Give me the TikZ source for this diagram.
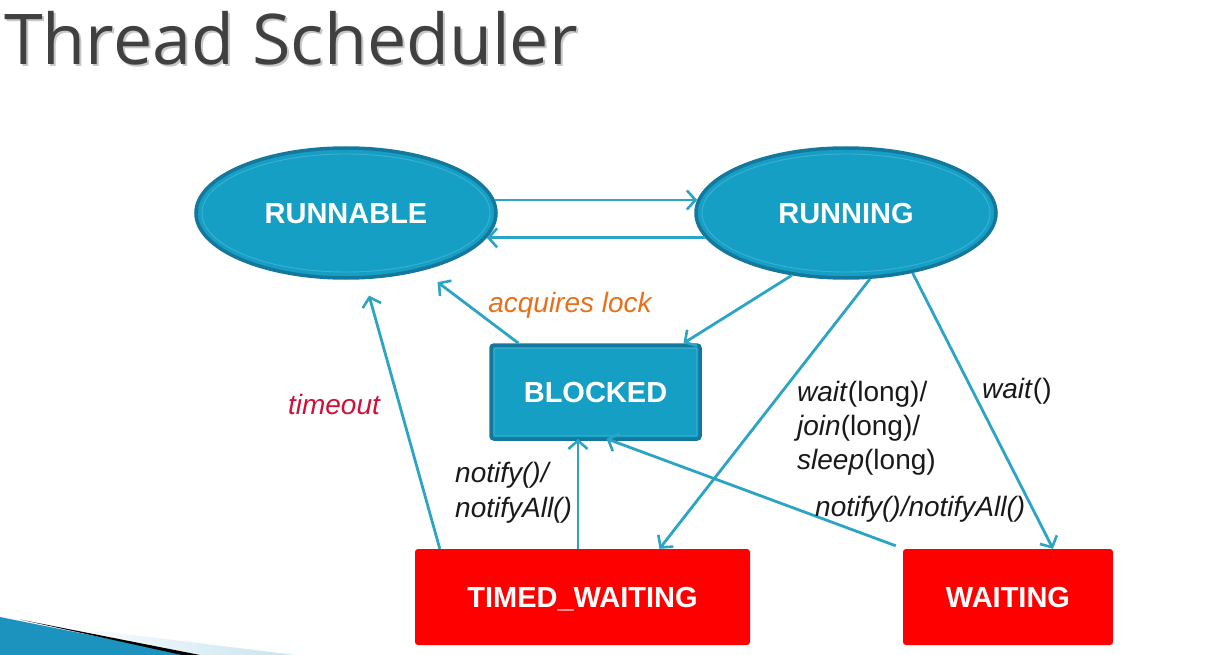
\documentclass[tikz,border=0pt]{standalone}
\usepackage{fontspec}
\setmainfont{Liberation Sans}
\newfontfamily\titlefont{Open Sans}
\usetikzlibrary{arrows.meta,shapes.geometric,calc,shadings}
\definecolor{ellfill}{HTML}{159FC5}
\definecolor{elldark}{HTML}{14779C}
\definecolor{ellring}{HTML}{3DB0D2}
\definecolor{arrowc}{HTML}{2CA4C6}
\definecolor{redbox}{HTML}{FF0000}
\definecolor{orangetxt}{HTML}{E8701A}
\definecolor{crimsontxt}{HTML}{D0103A}
\definecolor{titlegray}{HTML}{404040}
\definecolor{swoosh}{HTML}{1C93BE}
\begin{document}
\begin{tikzpicture}[x=1pt,y=-1pt,
  state/.style={ellipse,fill=ellfill,draw=elldark,line width=3.5pt,minimum width=300pt,minimum height=130pt,inner sep=0pt,
     text=white,font=\fontsize{29}{32}\selectfont\bfseries,text height=21pt,text depth=0pt},
  bluebox/.style={rectangle,rounded corners=3pt,fill=ellfill,draw=elldark,line width=3.5pt,minimum width=209pt,minimum height=94pt,inner sep=0pt,
     text=white,font=\fontsize{29}{32}\selectfont\bfseries,text height=21pt,text depth=0pt},
  redstate/.style={rectangle,rounded corners=3pt,fill=redbox,minimum height=96pt,inner sep=0pt,
     text=white,font=\fontsize{29}{32}\selectfont\bfseries,text height=21pt,text depth=0pt},
  ring/.style={draw=ellring,line width=0.9pt},
  conn/.style={draw=arrowc,line width=2.8pt,-{Straight Barb[length=8.5pt,width=19pt,line width=2.6pt]}},
  lbl/.style={font=\fontsize{28}{34}\selectfont,text=black!90,inner sep=0pt,align=left}
]
\useasboundingbox (0,0) rectangle (1220,655);
\fill[white] (0,0) rectangle (1220,655);

% title
\node[anchor=base west,inner sep=0pt,text=black!22,font=\titlefont\fontsize{70}{80}\selectfont] (titleshadow) at (6,67) {Thread Scheduler};
\node[anchor=base west,inner sep=0pt,text=titlegray,font=\titlefont\fontsize{70}{80}\selectfont] (title) at (4,65) {Thread Scheduler};

% bottom-left swoosh
\shade[left color=white,right color=swoosh!25] (60,626) -- (295,655) -- (190,655) -- cycle;
\fill[swoosh] (0,617) -- (190,655) -- (0,655) -- cycle;
\fill[black] (20,619.5) -- (200,655) -- (182,655) -- cycle;

% states
\node[state] (runnable) at (346,213) {RUNNABLE};
\node[state] (running) at (846,213) {RUNNING};
\draw[ring] (runnable.center) ellipse [x radius=144, y radius=59];
\draw[ring] (running.center) ellipse [x radius=144, y radius=59];

\node[bluebox] (blocked) at (595.5,392) {BLOCKED};
\draw[ring,rounded corners=1pt] ($(blocked.north west)+(5,5)$) rectangle ($(blocked.south east)+(-5,-5)$);

\node[redstate,minimum width=335pt] (timed) at (582.5,597) {TIMED\_WAITING};
\node[redstate,minimum width=210pt] (waiting) at (1008,597) {WAITING};

% connectors
\coordinate (upA) at (runnable.5);
\coordinate (upB) at (upA -| running.175);
\coordinate (loA) at (running.-170);
\coordinate (loB) at (loA -| runnable.-10);
\draw[conn] (upA) -- (upB);
\draw[conn] (loA) -- (loB);
\draw[conn] (running.229) -- ([xshift=88]blocked.north);
\draw[conn,shorten >=19pt] ([xshift=-77]blocked.north) -- (runnable);
\draw[conn,shorten >=17pt] ([xshift=25]timed.north west) -- (runnable);
\draw[conn] ([xshift=-4.5]timed.north) -- ([xshift=-4.5,yshift=2]timed.north |- blocked.south);
\draw[conn] (running.-70) -- ([xshift=77]timed.north);
\draw[conn] (running.-42) -- ([xshift=45]waiting.north);
\draw[conn] ([xshift=-7,yshift=3]waiting.north west) -- ([xshift=11,yshift=2]blocked.south);

% labels
\node[lbl,text=orangetxt,anchor=center] (lacq) at (570,305) {\itshape acquires lock};
\node[lbl,text=crimsontxt,anchor=center] (ltime) at (334,404) {\itshape timeout};
\node[lbl,anchor=north west,font=\fontsize{28}{35}\selectfont] (lnot1) at (455,462) {\itshape notify()/\\\itshape notifyAll()};
\node[lbl,anchor=north west,font=\fontsize{28}{34}\selectfont] (lwaitl) at (797,381) {\textit{wait}(long)/\\\textit{join}(long)/\\\textit{sleep}(long)};
\node[lbl,anchor=west] (lwait) at (982,391) {\textit{wait}()};
\node[lbl,anchor=west] (lnot2) at (815,509) {\itshape notify()/notifyAll()};
\end{tikzpicture}
\end{document}
